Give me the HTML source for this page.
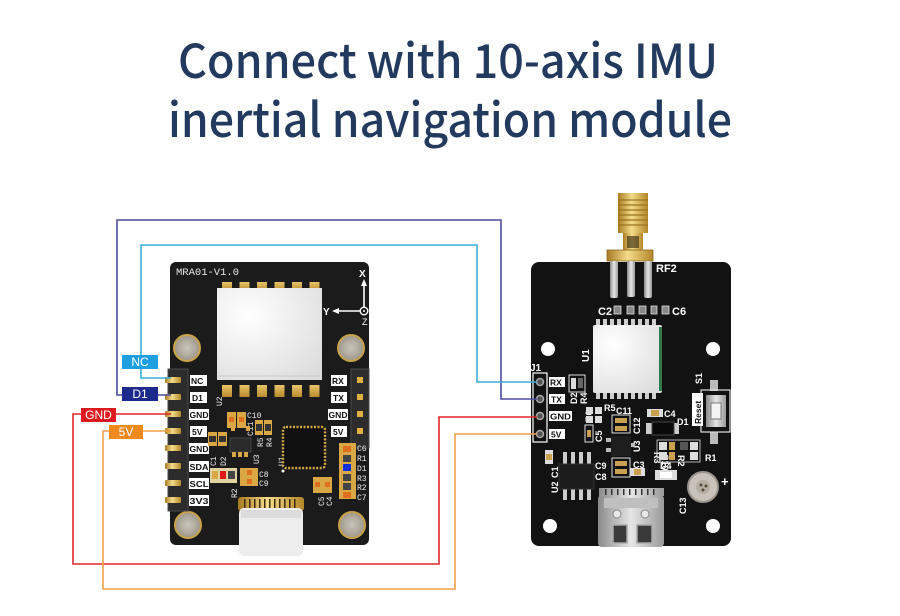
<!DOCTYPE html>
<html><head><meta charset="utf-8">
<style>
html,body{margin:0;padding:0;background:#fff;}
svg{display:block;}
.t{font-family:"Liberation Sans",sans-serif;font-weight:bold;}
</style></head><body>
<svg width="900" height="616" viewBox="0 0 900 616" xmlns="http://www.w3.org/2000/svg">
<defs>
 <linearGradient id="gold" x1="0" x2="1" y1="0" y2="0">
  <stop offset="0" stop-color="#a87a22"/><stop offset="0.45" stop-color="#f4dc8a"/><stop offset="1" stop-color="#b48628"/>
 </linearGradient>
 <linearGradient id="goldv" x1="0" x2="0" y1="0" y2="1">
  <stop offset="0" stop-color="#e8c46a"/><stop offset="1" stop-color="#b88a2c"/>
 </linearGradient>
 <linearGradient id="silver" x1="0" x2="1">
  <stop offset="0" stop-color="#8a8a8a"/><stop offset="0.5" stop-color="#e6e6e6"/><stop offset="1" stop-color="#9a9a9a"/>
 </linearGradient>
 <radialGradient id="mod" cx="0.3" cy="0.3" r="0.9">
  <stop offset="0" stop-color="#ffffff"/><stop offset="1" stop-color="#dcdcdc"/>
 </radialGradient>
 <radialGradient id="hole" cx="0.5" cy="0.5" r="0.5">
  <stop offset="0" stop-color="#c9c4bb"/><stop offset="1" stop-color="#9e978b"/>
 </radialGradient>
</defs>
<rect width="900" height="616" fill="#fff"/>

<!-- Title -->
<text x="178" y="78" font-family="Noto Sans CJK SC, Liberation Sans, sans-serif" font-weight="500" font-size="47" fill="#223a5e" textLength="540" lengthAdjust="spacingAndGlyphs">Connect with 10-axis IMU</text>
<text x="168" y="137" font-family="Noto Sans CJK SC, Liberation Sans, sans-serif" font-weight="500" font-size="47" fill="#223a5e" textLength="564" lengthAdjust="spacingAndGlyphs">inertial navigation module</text>

<!-- ============ LEFT BOARD ============ -->
<rect x="170" y="262" width="199" height="283" rx="6" fill="#1b1b1b"/>
<text x="176" y="275" font-family="Liberation Mono, monospace" font-size="10.5" fill="#e8e8e8">MRA01-V1.0</text>
<!-- axis -->
<text x="359" y="277" class="t" font-size="10" fill="#fff">X</text>
<line x1="364" y1="282" x2="364" y2="307" stroke="#fff" stroke-width="1.6"/>
<polygon points="364,279 361,286 367,286" fill="#fff"/>
<circle cx="364" cy="311" r="3.8" fill="none" stroke="#fff" stroke-width="1.4"/>
<circle cx="364" cy="311" r="1" fill="#fff"/>
<line x1="336" y1="311" x2="360" y2="311" stroke="#fff" stroke-width="1.6"/>
<polygon points="332,311 339,308 339,314" fill="#fff"/>
<text x="323" y="315" class="t" font-size="10" fill="#fff">Y</text>
<text x="362" y="325" font-family="Liberation Sans,sans-serif" font-size="9" fill="#fff">Z</text>
<!-- module -->
<g fill="url(#goldv)">
 <rect x="222" y="282" width="10" height="9"/><rect x="239.5" y="282" width="10" height="9"/><rect x="257" y="282" width="10" height="9"/>
 <rect x="274.5" y="282" width="10" height="9"/><rect x="292" y="282" width="10" height="9"/><rect x="309.5" y="282" width="10" height="9"/>
 <rect x="222" y="385" width="10" height="12"/><rect x="239.5" y="385" width="10" height="12"/><rect x="257" y="385" width="10" height="12"/>
 <rect x="274.5" y="385" width="10" height="12"/><rect x="292" y="385" width="10" height="12"/><rect x="309.5" y="385" width="10" height="12"/>
</g>
<rect x="217" y="288" width="105" height="92" fill="url(#mod)"/>
<line x1="218" y1="376" x2="321" y2="376" stroke="#c8c8c8" stroke-width="1"/>
<!-- holes -->
<g>
 <circle cx="187" cy="348" r="13" fill="url(#hole)" stroke="#c9a34a" stroke-width="2"/>
 <circle cx="187" cy="348" r="7" fill="none" stroke="#b8b0a2" stroke-width="1"/>
 <circle cx="351" cy="348" r="13" fill="url(#hole)" stroke="#c9a34a" stroke-width="2"/>
 <circle cx="351" cy="348" r="7" fill="none" stroke="#b8b0a2" stroke-width="1"/>
 <circle cx="188" cy="525" r="13" fill="url(#hole)" stroke="#c9a34a" stroke-width="2"/>
 <circle cx="188" cy="525" r="7" fill="none" stroke="#b8b0a2" stroke-width="1"/>
 <circle cx="352" cy="525" r="13" fill="url(#hole)" stroke="#c9a34a" stroke-width="2"/>
 <circle cx="352" cy="525" r="7" fill="none" stroke="#b8b0a2" stroke-width="1"/>
</g>
<!-- left header -->
<rect x="168" y="369" width="20" height="142" fill="#2c2c2c" stroke="#4a4a4a" stroke-width="1"/>
<g fill="url(#gold)">
 <rect x="165" y="377" width="16" height="6" rx="1"/><rect x="165" y="394" width="16" height="6" rx="1"/>
 <rect x="165" y="411" width="16" height="6" rx="1"/><rect x="165" y="428" width="16" height="6" rx="1"/>
 <rect x="165" y="445" width="16" height="6" rx="1"/><rect x="165" y="463" width="16" height="6" rx="1"/>
 <rect x="165" y="480" width="16" height="6" rx="1"/><rect x="165" y="497" width="16" height="6" rx="1"/>
</g>
<g fill="#fff">
 <rect x="190" y="375" width="17" height="11"/><rect x="190" y="392" width="17" height="11"/>
 <rect x="189" y="409" width="20" height="11"/><rect x="190" y="426" width="17" height="11"/>
 <rect x="189" y="443" width="20" height="11"/><rect x="189" y="461" width="20" height="11"/>
 <rect x="189" y="478" width="20" height="11"/><rect x="189" y="495" width="20" height="11"/>
</g>
<g class="t" font-size="8.5" fill="#111">
 <text x="191" y="384">NC</text><text x="192" y="401">D1</text><text x="189.5" y="418" textLength="19" lengthAdjust="spacingAndGlyphs">GND</text>
 <text x="192" y="435">5V</text><text x="189.5" y="452" textLength="19" lengthAdjust="spacingAndGlyphs">GND</text>
 <text x="189.5" y="470" textLength="19" lengthAdjust="spacingAndGlyphs">SDA</text><text x="189.5" y="487" textLength="19" lengthAdjust="spacingAndGlyphs">SCL</text>
 <text x="189.5" y="504" textLength="19" lengthAdjust="spacingAndGlyphs">3V3</text>
</g>
<!-- right header -->
<rect x="351" y="369" width="18" height="79" fill="#2c2c2c" stroke="#4a4a4a" stroke-width="1"/>
<g fill="#e0b040">
 <rect x="357" y="377" width="6" height="6"/><rect x="357" y="394" width="6" height="6"/>
 <rect x="357" y="411" width="6" height="6"/><rect x="357" y="428" width="6" height="6"/>
</g>
<g fill="#fff">
 <rect x="331" y="375" width="16" height="11"/><rect x="331" y="392" width="16" height="11"/>
 <rect x="328" y="409" width="20" height="11"/><rect x="331" y="426" width="16" height="11"/>
</g>
<g class="t" font-size="8.5" fill="#111">
 <text x="332" y="384">RX</text><text x="333" y="401">TX</text><text x="328.5" y="418" textLength="19" lengthAdjust="spacingAndGlyphs">GND</text><text x="333" y="435">5V</text>
</g>
<!-- components left board -->
<g font-family="Liberation Mono,monospace" font-size="8" fill="#f0f0f0">
 <text x="0" y="0" transform="translate(222,406) rotate(-90)">U2</text>
 <text x="247" y="418">C10</text>
 <text x="0" y="0" transform="translate(253,436) rotate(-90)">C11</text>
 <text x="0" y="0" transform="translate(263,447) rotate(-90)">R5</text>
 <text x="0" y="0" transform="translate(272,447) rotate(-90)">R4</text>
 <text x="0" y="0" transform="translate(259,464) rotate(-90)">U3</text>
 <text x="0" y="0" transform="translate(284,466) rotate(-90)">U1</text>
 <text x="0" y="0" transform="translate(216,466) rotate(-90)">C1</text>
 <text x="0" y="0" transform="translate(226,466) rotate(-90)">D2</text>
 <text x="259" y="477">C8</text><text x="259" y="486">C9</text>
 <text x="0" y="0" transform="translate(237,498) rotate(-90)">R2</text>
 <text x="0" y="0" transform="translate(324,506) rotate(-90)">C5</text>
 <text x="0" y="0" transform="translate(332,506) rotate(-90)">C4</text>
 <text x="357" y="451">C6</text><text x="357" y="461">R1</text><text x="357" y="471">D1</text>
 <text x="357" y="481">R3</text><text x="357" y="490">R2</text><text x="357" y="500">C7</text>
</g>
<!-- C10/C11 pair -->
<rect x="227" y="412" width="9" height="16" fill="#d9a845"/><rect x="237" y="412" width="9" height="16" fill="#d9a845"/>
<rect x="229" y="417" width="5" height="5" fill="#e07020"/><rect x="239" y="417" width="5" height="5" fill="#e07020"/>
<!-- R5/R4 -->
<rect x="255" y="420" width="8" height="15" fill="#d9a845"/><rect x="264" y="420" width="8" height="15" fill="#d9a845"/>
<rect x="256" y="424" width="6" height="7" fill="#333"/><rect x="265" y="424" width="6" height="7" fill="#333"/>
<!-- R2/R3 -->
<rect x="208" y="432" width="9" height="14" fill="#d9a845"/><rect x="218" y="432" width="9" height="14" fill="#d9a845"/>
<rect x="209" y="436" width="7" height="6" fill="#333"/><rect x="219" y="436" width="7" height="6" fill="#333"/>
<!-- U3 -->
<rect x="231" y="426" width="4" height="5" fill="#d9a845"/><rect x="246" y="426" width="4" height="5" fill="#d9a845"/>
<rect x="230" y="438" width="21" height="14" fill="#2a2a2a" stroke="#444"/>
<rect x="232" y="452" width="4" height="5" fill="#d9a845"/><rect x="238" y="452" width="4" height="5" fill="#d9a845"/><rect x="244" y="452" width="4" height="5" fill="#d9a845"/>
<!-- QFN -->
<rect x="283" y="427" width="42" height="41" rx="3" fill="#0e0e0e" stroke="#d4a848" stroke-width="2.5" stroke-dasharray="2,1.5"/>
<rect x="287" y="431" width="34" height="33" fill="#111"/>
<circle cx="283" cy="471" r="1.5" fill="#fff"/>
<!-- C1 D2 -->
<rect x="210" y="468" width="27" height="15" fill="#e2d2a0"/>
<rect x="212" y="471" width="6" height="8" fill="#d9a845"/><rect x="220" y="471" width="6" height="8" fill="#e01818"/><rect x="228" y="471" width="7" height="8" fill="#444"/>
<!-- C8 C9 -->
<rect x="240" y="468" width="18" height="18" fill="#d9a845"/>
<rect x="247" y="470" width="5" height="5" fill="#e07020"/><rect x="247" y="479" width="5" height="5" fill="#e07020"/>
<!-- C5 C4 -->
<rect x="313" y="477" width="19" height="16" fill="#d9a845"/>
<rect x="315" y="482" width="5" height="5" fill="#e07020"/><rect x="325" y="482" width="5" height="5" fill="#e07020"/>
<!-- right column -->
<rect x="339" y="443" width="17" height="56" fill="#d9a845"/>
<rect x="343" y="446" width="8" height="6" fill="#e07020"/>
<rect x="343" y="455" width="8" height="7" fill="#444"/>
<rect x="343" y="464" width="8" height="7" fill="#1030e0"/>
<rect x="343" y="474" width="8" height="7" fill="#444"/>
<rect x="343" y="483" width="8" height="7" fill="#444"/>
<rect x="343" y="492" width="8" height="6" fill="#e07020"/>
<!-- USB-C left -->
<rect x="238" y="497" width="66" height="14" rx="3" fill="url(#gold)"/>
<g fill="#3a2a10">
 <rect x="244" y="499" width="1.5" height="9"/><rect x="249" y="499" width="1.5" height="9"/><rect x="254" y="499" width="1.5" height="9"/><rect x="259" y="499" width="1.5" height="9"/>
 <rect x="264" y="499" width="1.5" height="9"/><rect x="269" y="499" width="1.5" height="9"/><rect x="274" y="499" width="1.5" height="9"/><rect x="279" y="499" width="1.5" height="9"/>
 <rect x="284" y="499" width="1.5" height="9"/><rect x="289" y="499" width="1.5" height="9"/><rect x="294" y="499" width="1.5" height="9"/>
</g>
<rect x="239" y="508" width="64" height="48" rx="5" fill="#ededed"/>
<rect x="241" y="510" width="60" height="8" fill="#dcdcdc"/>

<!-- ============ RIGHT BOARD ============ -->
<!-- antenna -->
<rect x="618" y="193" width="30" height="40" fill="url(#gold)"/>
<g stroke="#9a7420" stroke-width="1.2">
 <line x1="618" y1="200" x2="648" y2="200"/><line x1="618" y1="205" x2="648" y2="205"/><line x1="618" y1="210" x2="648" y2="210"/>
 <line x1="618" y1="215" x2="648" y2="215"/><line x1="618" y1="220" x2="648" y2="220"/><line x1="618" y1="225" x2="648" y2="225"/>
</g>
<rect x="623" y="233" width="20" height="18" fill="url(#gold)"/>
<rect x="627" y="236" width="12" height="12" fill="#2a2208" opacity="0.6"/>
<rect x="607" y="250" width="46" height="11" fill="url(#gold)" stroke="#8a6a20" stroke-width="0.8"/>
<rect x="531" y="262" width="200" height="284" rx="8" fill="#121212"/>
<rect x="610" y="261" width="8" height="37" rx="2" fill="url(#silver)"/>
<rect x="627" y="261" width="8" height="36" rx="2" fill="url(#silver)"/>
<rect x="644" y="261" width="8" height="37" rx="2" fill="url(#silver)"/>
<text x="656" y="272" class="t" font-size="11" fill="#fff">RF2</text>
<text x="598" y="315" class="t" font-size="11" fill="#fff">C2</text>
<text x="672" y="315" class="t" font-size="11" fill="#fff">C6</text>
<g fill="#888" stroke="#ddd" stroke-width="0.8">
 <rect x="614" y="306" width="7" height="8"/><rect x="627" y="306" width="7" height="8"/><rect x="639" y="306" width="7" height="8"/>
 <rect x="651" y="306" width="6" height="8"/><rect x="662" y="306" width="7" height="8"/>
</g>
<!-- U1 module -->
<g fill="#cfcfcf">
 <rect x="596" y="319" width="4" height="8"/><rect x="603" y="319" width="4" height="8"/><rect x="610" y="319" width="4" height="8"/>
 <rect x="617" y="319" width="4" height="8"/><rect x="624" y="319" width="4" height="8"/><rect x="631" y="319" width="4" height="8"/>
 <rect x="638" y="319" width="4" height="8"/><rect x="645" y="319" width="4" height="8"/><rect x="652" y="319" width="4" height="8"/>
 <rect x="596" y="391" width="4" height="8"/><rect x="603" y="391" width="4" height="8"/><rect x="610" y="391" width="4" height="8"/>
 <rect x="617" y="391" width="4" height="8"/><rect x="624" y="391" width="4" height="8"/><rect x="631" y="391" width="4" height="8"/>
 <rect x="638" y="391" width="4" height="8"/><rect x="645" y="391" width="4" height="8"/><rect x="652" y="391" width="4" height="8"/>
</g>
<rect x="593" y="325" width="69" height="68" rx="2" fill="url(#mod)"/>
<rect x="659" y="327" width="3" height="64" fill="#2f7a4a"/>
<text x="0" y="0" transform="translate(589,362) rotate(-90)" class="t" font-size="10" fill="#fff">U1</text>
<!-- holes -->
<circle cx="548" cy="349" r="7" fill="#fff"/><circle cx="713" cy="349" r="7" fill="#fff"/>
<circle cx="550" cy="526" r="7" fill="#fff"/><circle cx="713" cy="526" r="7" fill="#fff"/>
<!-- J1 -->
<text x="530" y="371" class="t" font-size="10" fill="#fff">J1</text>
<rect x="533" y="373" width="14" height="69" fill="none" stroke="#fff" stroke-width="1.2"/>
<g fill="#555" stroke="#aaa" stroke-width="1.5">
 <circle cx="540" cy="382" r="3.5"/><circle cx="540" cy="399" r="3.5"/><circle cx="540" cy="416" r="3.5"/><circle cx="540" cy="434" r="3.5"/>
</g>
<g fill="#fff">
 <rect x="549" y="377" width="16" height="10"/><rect x="549" y="394" width="16" height="10"/>
 <rect x="549" y="411" width="23" height="10"/><rect x="549" y="429" width="16" height="10"/>
</g>
<g class="t" font-size="8.5" fill="#111">
 <text x="550" y="385.5">RX</text><text x="551" y="402.5">TX</text><text x="550" y="419.5" textLength="21" lengthAdjust="spacingAndGlyphs">GND</text><text x="551" y="437.5">5V</text>
</g>
<!-- D2 R4 -->
<rect x="569" y="375" width="16" height="17" fill="none" stroke="#ddd" stroke-width="1"/>
<rect x="571" y="378" width="5" height="11" fill="#ddd"/><rect x="578" y="378" width="5" height="10" fill="#666"/>
<g font-family="Liberation Sans,sans-serif" font-weight="bold" font-size="9" fill="#fff">
 <text x="0" y="0" transform="translate(577,404) rotate(-90)">D2</text>
 <text x="0" y="0" transform="translate(587,404) rotate(-90)">R4</text>
 <text x="604" y="411">R5</text>
 <text x="0" y="0" transform="translate(592,422) rotate(-90)">R6</text>
 <text x="0" y="0" transform="translate(602,442) rotate(-90)">C5</text>
 <text x="616" y="414">C11</text>
 <text x="0" y="0" transform="translate(640,434) rotate(-90)">C12</text>
 <text x="0" y="0" transform="translate(640,452) rotate(-90)">U3</text>
 <text x="664" y="417">C4</text>
 <text x="677" y="425">D1</text>
 <text x="0" y="0" transform="translate(678,455) rotate(90)">R2</text>
 <text x="0" y="0" transform="translate(662,454) rotate(90)">C10</text>
 <text x="0" y="0" transform="translate(654,452) rotate(90)">R3</text>
 <text x="705" y="461">R1</text>
 <text x="595" y="469">C9</text><text x="595" y="480">C8</text>
 <text x="633" y="468">C3</text>
 <text x="660" y="469">D4</text>
 <text x="0" y="0" transform="translate(686,514) rotate(-90)">C13</text>
 <text x="0" y="0" transform="translate(558,493) rotate(-90)">U2</text>
 <text x="0" y="0" transform="translate(558,478) rotate(-90)">C1</text>
 <text x="0" y="0" transform="translate(702,384) rotate(-90)">S1</text>
</g>
<!-- R6, C5 -->
<rect x="586" y="407" width="7" height="7" fill="#ddd"/><rect x="595" y="407" width="7" height="7" fill="#ddd"/>
<rect x="586" y="416" width="7" height="7" fill="#ddd"/><rect x="595" y="416" width="7" height="7" fill="#ddd"/>
<rect x="585" y="425" width="8" height="17" fill="none" stroke="#ddd"/><rect x="587" y="430" width="4" height="7" fill="#c8a050"/>
<!-- C11 -->
<rect x="612" y="415" width="18" height="18" fill="none" stroke="#ddd"/>
<rect x="615" y="418" width="12" height="5" fill="#c8a050"/><rect x="615" y="426" width="12" height="5" fill="#c8a050"/>
<!-- U3 -->
<rect x="611" y="436" width="20" height="20" fill="#1e1e1e"/>
<rect x="606" y="438" width="5" height="4" fill="#bbb"/><rect x="606" y="448" width="5" height="4" fill="#bbb"/><rect x="631" y="443" width="4" height="4" fill="#bbb"/>
<!-- C4 -->
<rect x="647" y="409" width="16" height="8" fill="#ddd"/><rect x="651" y="410" width="8" height="6" fill="#c8a050"/>
<!-- D1 -->
<rect x="646" y="423" width="8" height="11" fill="#ccc"/><rect x="672" y="423" width="7" height="11" fill="#ccc"/>
<rect x="652" y="422" width="22" height="13" fill="#0a0a0a" stroke="#444"/>
<!-- R3 C10 R2 cluster -->
<rect x="657" y="440" width="43" height="22" fill="none" stroke="#ddd" stroke-width="0.8"/>
<rect x="659" y="442" width="8" height="8" fill="#ddd"/><rect x="659" y="452" width="8" height="8" fill="#ddd"/>
<rect x="669" y="442" width="6" height="8" fill="#c8a050"/><rect x="669" y="452" width="6" height="8" fill="#c8a050"/>
<rect x="680" y="442" width="8" height="8" fill="#555"/><rect x="690" y="442" width="8" height="8" fill="#ddd"/><rect x="690" y="452" width="8" height="8" fill="#ddd"/>
<!-- C9 C8 C3 D4 -->
<rect x="612" y="458" width="18" height="19" fill="none" stroke="#ddd"/>
<rect x="615" y="461" width="12" height="5" fill="#c8a050"/><rect x="615" y="469" width="12" height="5" fill="#c8a050"/>
<rect x="630" y="468" width="15" height="8" fill="#ddd"/><rect x="634" y="469" width="7" height="6" fill="#c8a050"/>
<rect x="655" y="470" width="22" height="10" fill="#ddd"/><rect x="660" y="472" width="12" height="6" fill="#fff"/>
<!-- C1 -->
<rect x="545" y="450" width="8" height="14" fill="#ddd"/><rect x="546" y="454" width="6" height="6" fill="#c8a050"/>
<!-- U2 -->
<g fill="#ccc">
 <rect x="563" y="452" width="4" height="13"/><rect x="571" y="452" width="4" height="13"/><rect x="579" y="452" width="4" height="13"/><rect x="587" y="452" width="4" height="13"/>
 <rect x="563" y="488" width="4" height="12"/><rect x="571" y="488" width="4" height="12"/><rect x="579" y="488" width="4" height="12"/><rect x="587" y="488" width="4" height="12"/>
</g>
<rect x="559" y="464" width="35" height="25" fill="#1c1c1c" stroke="#333"/>
<!-- reset -->
<rect x="710" y="380" width="8" height="11" fill="#bbb"/>
<rect x="710" y="432" width="8" height="12" fill="#bbb"/>
<rect x="701" y="390" width="29" height="42" fill="none" stroke="#ddd" stroke-width="1.2"/>
<rect x="706" y="395" width="20" height="32" fill="url(#silver)"/>
<rect x="711" y="403" width="10" height="16" fill="#f4f4f4" stroke="#777"/>
<rect x="692" y="393" width="11" height="33" fill="#fff"/>
<text x="0" y="0" transform="translate(701,424) rotate(-90)" class="t" font-size="8.5" fill="#111">Reset</text>
<!-- C13 -->
<circle cx="703" cy="487" r="15" fill="#c8c2ba" stroke="#9a948c" stroke-width="2"/>
<circle cx="703" cy="487" r="7" fill="#b5aea4"/>
<circle cx="701" cy="485" r="1.5" fill="#5a4a3a"/><circle cx="706" cy="486" r="1.5" fill="#5a4a3a"/><circle cx="703" cy="490" r="1.5" fill="#5a4a3a"/>
<text x="721" y="486" class="t" font-size="13" fill="#fff">+</text>
<!-- USB-C right -->
<rect x="599" y="488" width="65" height="8" fill="url(#silver)"/>
<g fill="#333">
 <rect x="605" y="489" width="1.5" height="6"/><rect x="611" y="489" width="1.5" height="6"/><rect x="617" y="489" width="1.5" height="6"/><rect x="623" y="489" width="1.5" height="6"/>
 <rect x="629" y="489" width="1.5" height="6"/><rect x="635" y="489" width="1.5" height="6"/><rect x="641" y="489" width="1.5" height="6"/><rect x="647" y="489" width="1.5" height="6"/><rect x="653" y="489" width="1.5" height="6"/>
</g>
<rect x="598" y="495" width="66" height="52" rx="4" fill="url(#silver)"/>
<rect x="604" y="498" width="54" height="10" fill="#bfbfbf"/>
<circle cx="617" cy="514" r="4" fill="#e8e8e8" stroke="#888"/><circle cx="645" cy="514" r="4" fill="#e8e8e8" stroke="#888"/>
<rect x="613" y="525" width="14" height="18" fill="#3a3a3a" stroke="#aaa" stroke-width="1.5"/>
<rect x="637" y="525" width="15" height="18" fill="#3a3a3a" stroke="#aaa" stroke-width="1.5"/>

<!-- ============ WIRES ============ -->
<g fill="none" stroke-width="1.6">
 <path d="M171,395 H117 V220 H501 V399 H537" stroke="#4c4c9c"/>
 <path d="M171,378 H141 V245 H477 V382 H537" stroke="#3aaed8"/>
 <path d="M171,414 H73 V564 H439 V417 H537" stroke="#e0272c"/>
 <path d="M171,431 H103 V589 H455 V434 H537" stroke="#f0a048"/>
</g>
<!-- wire labels -->
<rect x="122" y="355" width="36" height="14" fill="#1e9fe0"/>
<text x="140" y="366" text-anchor="middle" font-family="Liberation Sans,sans-serif" font-size="12" fill="#fff">NC</text>
<rect x="122" y="387" width="36" height="14" fill="#1c2a8c"/>
<text x="140" y="398" text-anchor="middle" font-family="Liberation Sans,sans-serif" font-size="12" fill="#fff">D1</text>
<rect x="81" y="408" width="35" height="14" fill="#e01b1f"/>
<text x="98.5" y="419" text-anchor="middle" font-family="Liberation Sans,sans-serif" font-size="12" fill="#fff">GND</text>
<rect x="109" y="425" width="34" height="14" fill="#f0891e"/>
<text x="126" y="436" text-anchor="middle" font-family="Liberation Sans,sans-serif" font-size="12" fill="#fff">5V</text>
</svg>
</body></html>
